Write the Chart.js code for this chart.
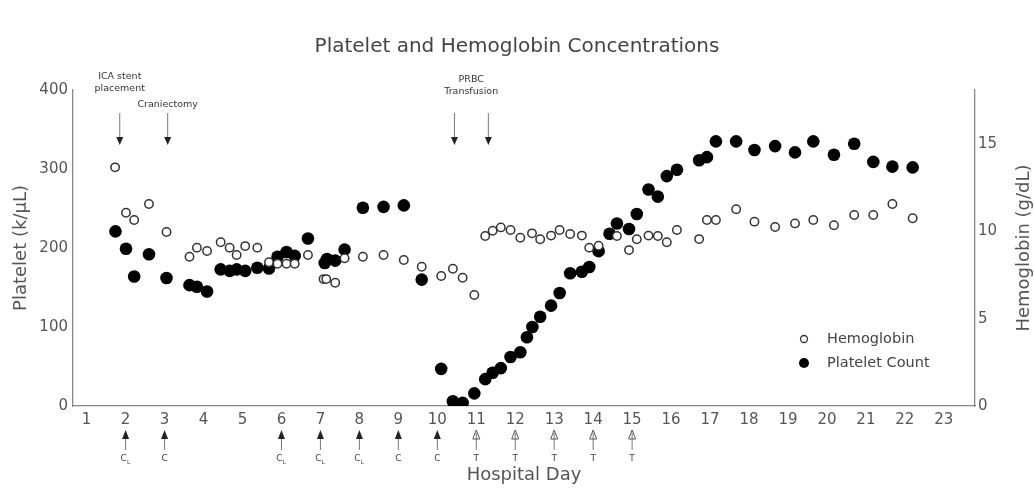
<!DOCTYPE html>
<html>
<head>
<meta charset="utf-8">
<script src="https://cdn.jsdelivr.net/npm/chart.js@4/dist/chart.umd.min.js"></script>
<style>
  html, body { margin: 0; padding: 0; background: #fff; }
  #wrap { width: 1034px; height: 488px; }
</style>
</head>
<body>
<div id="wrap"><canvas id="labChart" width="1034" height="488"></canvas></div>
<script>
// hemoglobin (g/dL) by hospital day
const hgbDays = [1.73, 2.01, 2.22, 2.60, 3.05, 3.64, 3.83, 4.09, 4.44, 4.67, 4.85, 5.07, 5.38, 5.68, 5.90, 6.13, 6.34, 6.68,
  7.08, 7.15, 7.38, 7.62, 8.09, 8.62, 9.14, 9.60, 10.10, 10.40, 10.65, 10.95, 11.23, 11.42, 11.63, 11.88, 12.13, 12.43,
  12.64, 12.92, 13.14, 13.41, 13.71, 13.90, 14.14, 14.61, 14.92, 15.12, 15.42, 15.66, 15.89, 16.15, 16.72, 16.92, 17.15,
  17.67, 18.14, 18.67, 19.18, 19.65, 20.18, 20.70, 21.19, 21.68, 22.20];
const hgbValues = [13.67, 11.07, 10.65, 11.57, 9.97, 8.55, 9.07, 8.88, 9.38, 9.07, 8.65, 9.16, 9.07, 8.23, 8.15, 8.15, 8.15, 8.65,
  7.27, 7.27, 7.06, 8.46, 8.55, 8.65, 8.36, 7.98, 7.45, 7.86, 7.35, 6.36, 9.74, 10.04, 10.23, 10.08, 9.64, 9.89,
  9.55, 9.76, 10.08, 9.85, 9.76, 9.07, 9.18, 9.74, 8.93, 9.55, 9.76, 9.74, 9.38, 10.08, 9.56, 10.65, 10.65,
  11.27, 10.56, 10.25, 10.46, 10.65, 10.35, 10.94, 10.94, 11.57, 10.75];

// platelet count (k/uL) by hospital day
const pltDays = [1.74, 2.01, 2.22, 2.60, 3.05, 3.64, 3.83, 4.09, 4.44, 4.67, 4.85, 5.07, 5.38, 5.68, 5.90, 6.13, 6.34, 6.68,
  7.11, 7.17, 7.38, 7.62, 8.09, 8.62, 9.14, 9.60, 10.10, 10.40, 10.65, 10.95, 11.23, 11.42, 11.63, 11.88, 12.13, 12.30,
  12.44, 12.64, 12.92, 13.14, 13.41, 13.71, 13.90, 14.14, 14.42, 14.61, 14.92, 15.12, 15.42, 15.66, 15.89, 16.15,
  16.72, 16.92, 17.15, 17.67, 18.14, 18.67, 19.18, 19.65, 20.18, 20.70, 21.19, 21.68, 22.20];
const pltValues = [221, 199, 164, 192, 162, 153, 151, 145, 173, 171, 173, 171, 175, 174, 189, 195, 190, 212,
  181, 186, 184, 198, 251, 252, 254, 160, 47, 6, 4, 16, 34, 42, 48, 62, 68, 87,
  100, 113, 127, 143, 168, 170, 176, 196, 218, 231, 224, 243, 274, 265, 291, 299,
  311, 315, 335, 335, 324, 329, 321, 335, 318, 332, 309, 303, 302];

// events above the plot
const eventArrowDays = [1.85, 3.08, 10.44, 11.31];
const eventLabelDays = [1.85, 3.08, 10.87];
const eventLabels = [['ICA stent', 'placement'], ['Craniectomy'], ['PRBC', 'Transfusion']];

// treatment markers under the x axis
const treatDays = [2, 3, 6, 7, 8, 9, 10, 11, 12, 13, 14, 15];
const treatCodes = ['CL', 'C', 'CL', 'CL', 'CL', 'C', 'C', 'T', 'T', 'T', 'T', 'T'];

const FONT = "'DejaVu Sans', Verdana, sans-serif";

function toPoints(xs, ys) {
  return xs.map((x, i) => ({ x: x, y: ys[i] }));
}

function downArrow(ctx, x, y0, y1) {
  ctx.strokeStyle = '#777';
  ctx.lineWidth = 1;
  ctx.beginPath();
  ctx.moveTo(x, y0);
  ctx.lineTo(x, y1 - 6);
  ctx.stroke();
  ctx.fillStyle = '#222';
  ctx.beginPath();
  ctx.moveTo(x - 3.5, y1 - 8);
  ctx.lineTo(x + 3.5, y1 - 8);
  ctx.lineTo(x, y1);
  ctx.closePath();
  ctx.fill();
}

function upArrow(ctx, x, tip, bottom, open) {
  ctx.strokeStyle = '#777';
  ctx.lineWidth = 1;
  ctx.beginPath();
  ctx.moveTo(x, bottom);
  ctx.lineTo(x, open ? tip + 3 : tip + 6);
  ctx.stroke();
  ctx.beginPath();
  ctx.moveTo(x - 3.5, tip + 9);
  ctx.lineTo(x + 3.5, tip + 9);
  ctx.lineTo(x, tip);
  ctx.closePath();
  if (open) {
    ctx.strokeStyle = '#555';
    ctx.stroke();
  } else {
    ctx.fillStyle = '#222';
    ctx.fill();
  }
}

const decorPlugin = {
  id: 'decor',
  afterDraw(chart) {
    const ctx = chart.ctx;
    const xs = chart.scales.x;
    const area = chart.chartArea;
    ctx.save();

    // title
    ctx.fillStyle = '#444';
    ctx.font = '20px ' + FONT;
    ctx.textAlign = 'center';
    ctx.textBaseline = 'middle';
    ctx.fillText('Platelet and Hemoglobin Concentrations', chart.width / 2, 47);

    // axis titles
    ctx.font = '18px ' + FONT;
    ctx.fillStyle = '#555';
    ctx.fillText('Hospital Day', (area.left + area.right) / 2, 475);
    ctx.save();
    ctx.translate(21, (area.top + area.bottom) / 2);
    ctx.rotate(-Math.PI / 2);
    ctx.fillText('Platelet (k/\u00B5L)', 0, 0);
    ctx.restore();
    ctx.save();
    ctx.translate(1024, (area.top + area.bottom) / 2);
    ctx.rotate(-Math.PI / 2);
    ctx.fillText('Hemoglobin (g/dL)', 0, 0);
    ctx.restore();

    // event arrows and labels
    eventArrowDays.forEach(d => downArrow(ctx, xs.getPixelForValue(d), 113, 145));
    ctx.font = '9.5px ' + FONT;
    ctx.fillStyle = '#333';
    eventLabels.forEach((lines, i) => {
      const px = xs.getPixelForValue(eventLabelDays[i]);
      const y0 = lines.length === 1 ? 105 : (i === 0 ? 77 : 80);
      lines.forEach((t, k) => ctx.fillText(t, px, y0 + k * 12));
    });

    // treatment arrows
    treatDays.forEach((d, i) => {
      const px = xs.getPixelForValue(d);
      const code = treatCodes[i];
      upArrow(ctx, px, 430, 450, code === 'T');
      ctx.fillStyle = '#444';
      ctx.textAlign = 'center';
      ctx.font = '9px ' + FONT;
      if (code === 'CL') {
        ctx.fillText('C', px - 2, 459);
        ctx.font = '6px ' + FONT;
        ctx.fillText('L', px + 3, 462);
      } else {
        ctx.fillText(code, px, 459);
      }
    });

    // legend
    ctx.textAlign = 'left';
    ctx.font = '14.5px ' + FONT;
    ctx.fillStyle = '#444';
    ctx.strokeStyle = '#333';
    ctx.lineWidth = 1.3;
    ctx.beginPath();
    ctx.arc(804, 339, 3.5, 0, Math.PI * 2);
    ctx.stroke();
    ctx.fillText('Hemoglobin', 827, 339);
    ctx.fillStyle = '#000';
    ctx.beginPath();
    ctx.arc(804, 363, 5, 0, Math.PI * 2);
    ctx.fill();
    ctx.fillStyle = '#444';
    ctx.fillText('Platelet Count', 827, 363);

    ctx.restore();
  }
};

const axisBorder = { display: true, color: '#888', width: 1.3 };
const noGrid = { drawOnChartArea: false, drawTicks: false, display: true };
const tickFont = { family: FONT, size: 15 };

new Chart(document.getElementById('labChart'), {
  type: 'scatter',
  data: {
    datasets: [
      {
        label: 'Hemoglobin',
        data: toPoints(hgbDays, hgbValues),
        yAxisID: 'yR',
        pointRadius: 4.2,
        pointHoverRadius: 4.2,
        pointBackgroundColor: '#fff',
        pointBorderColor: '#333',
        pointBorderWidth: 1.5
      },
      {
        label: 'Platelet Count',
        data: toPoints(pltDays, pltValues),
        yAxisID: 'y',
        pointRadius: 6.3,
        pointHoverRadius: 6.3,
        pointBackgroundColor: '#000',
        pointBorderColor: '#000',
        pointBorderWidth: 0
      }
    ]
  },
  options: {
    responsive: false,
    animation: false,
    layout: { padding: { top: 90, left: 0, right: 0, bottom: 0 } },
    plugins: {
      legend: { display: false },
      title: { display: false },
      tooltip: { enabled: false }
    },
    scales: {
      x: {
        type: 'linear',
        min: 0.65,
        max: 23.8,
        grid: noGrid,
        border: axisBorder,
        ticks: { stepSize: 1, includeBounds: false, color: '#555', font: tickFont, padding: 5 },
        afterFit(s) { s.height = 82; }
      },
      y: {
        position: 'left',
        min: 0,
        max: 400,
        grid: noGrid,
        border: axisBorder,
        ticks: { stepSize: 100, color: '#555', font: tickFont, padding: 5 },
        afterFit(s) { s.width = 73; }
      },
      yR: {
        position: 'right',
        min: 0,
        max: 18.1,
        grid: noGrid,
        border: axisBorder,
        ticks: { stepSize: 5, includeBounds: false, color: '#555', font: tickFont, padding: 3 },
        afterFit(s) { s.width = 59; }
      }
    }
  },
  plugins: [decorPlugin]
});
</script>
</body>
</html>
